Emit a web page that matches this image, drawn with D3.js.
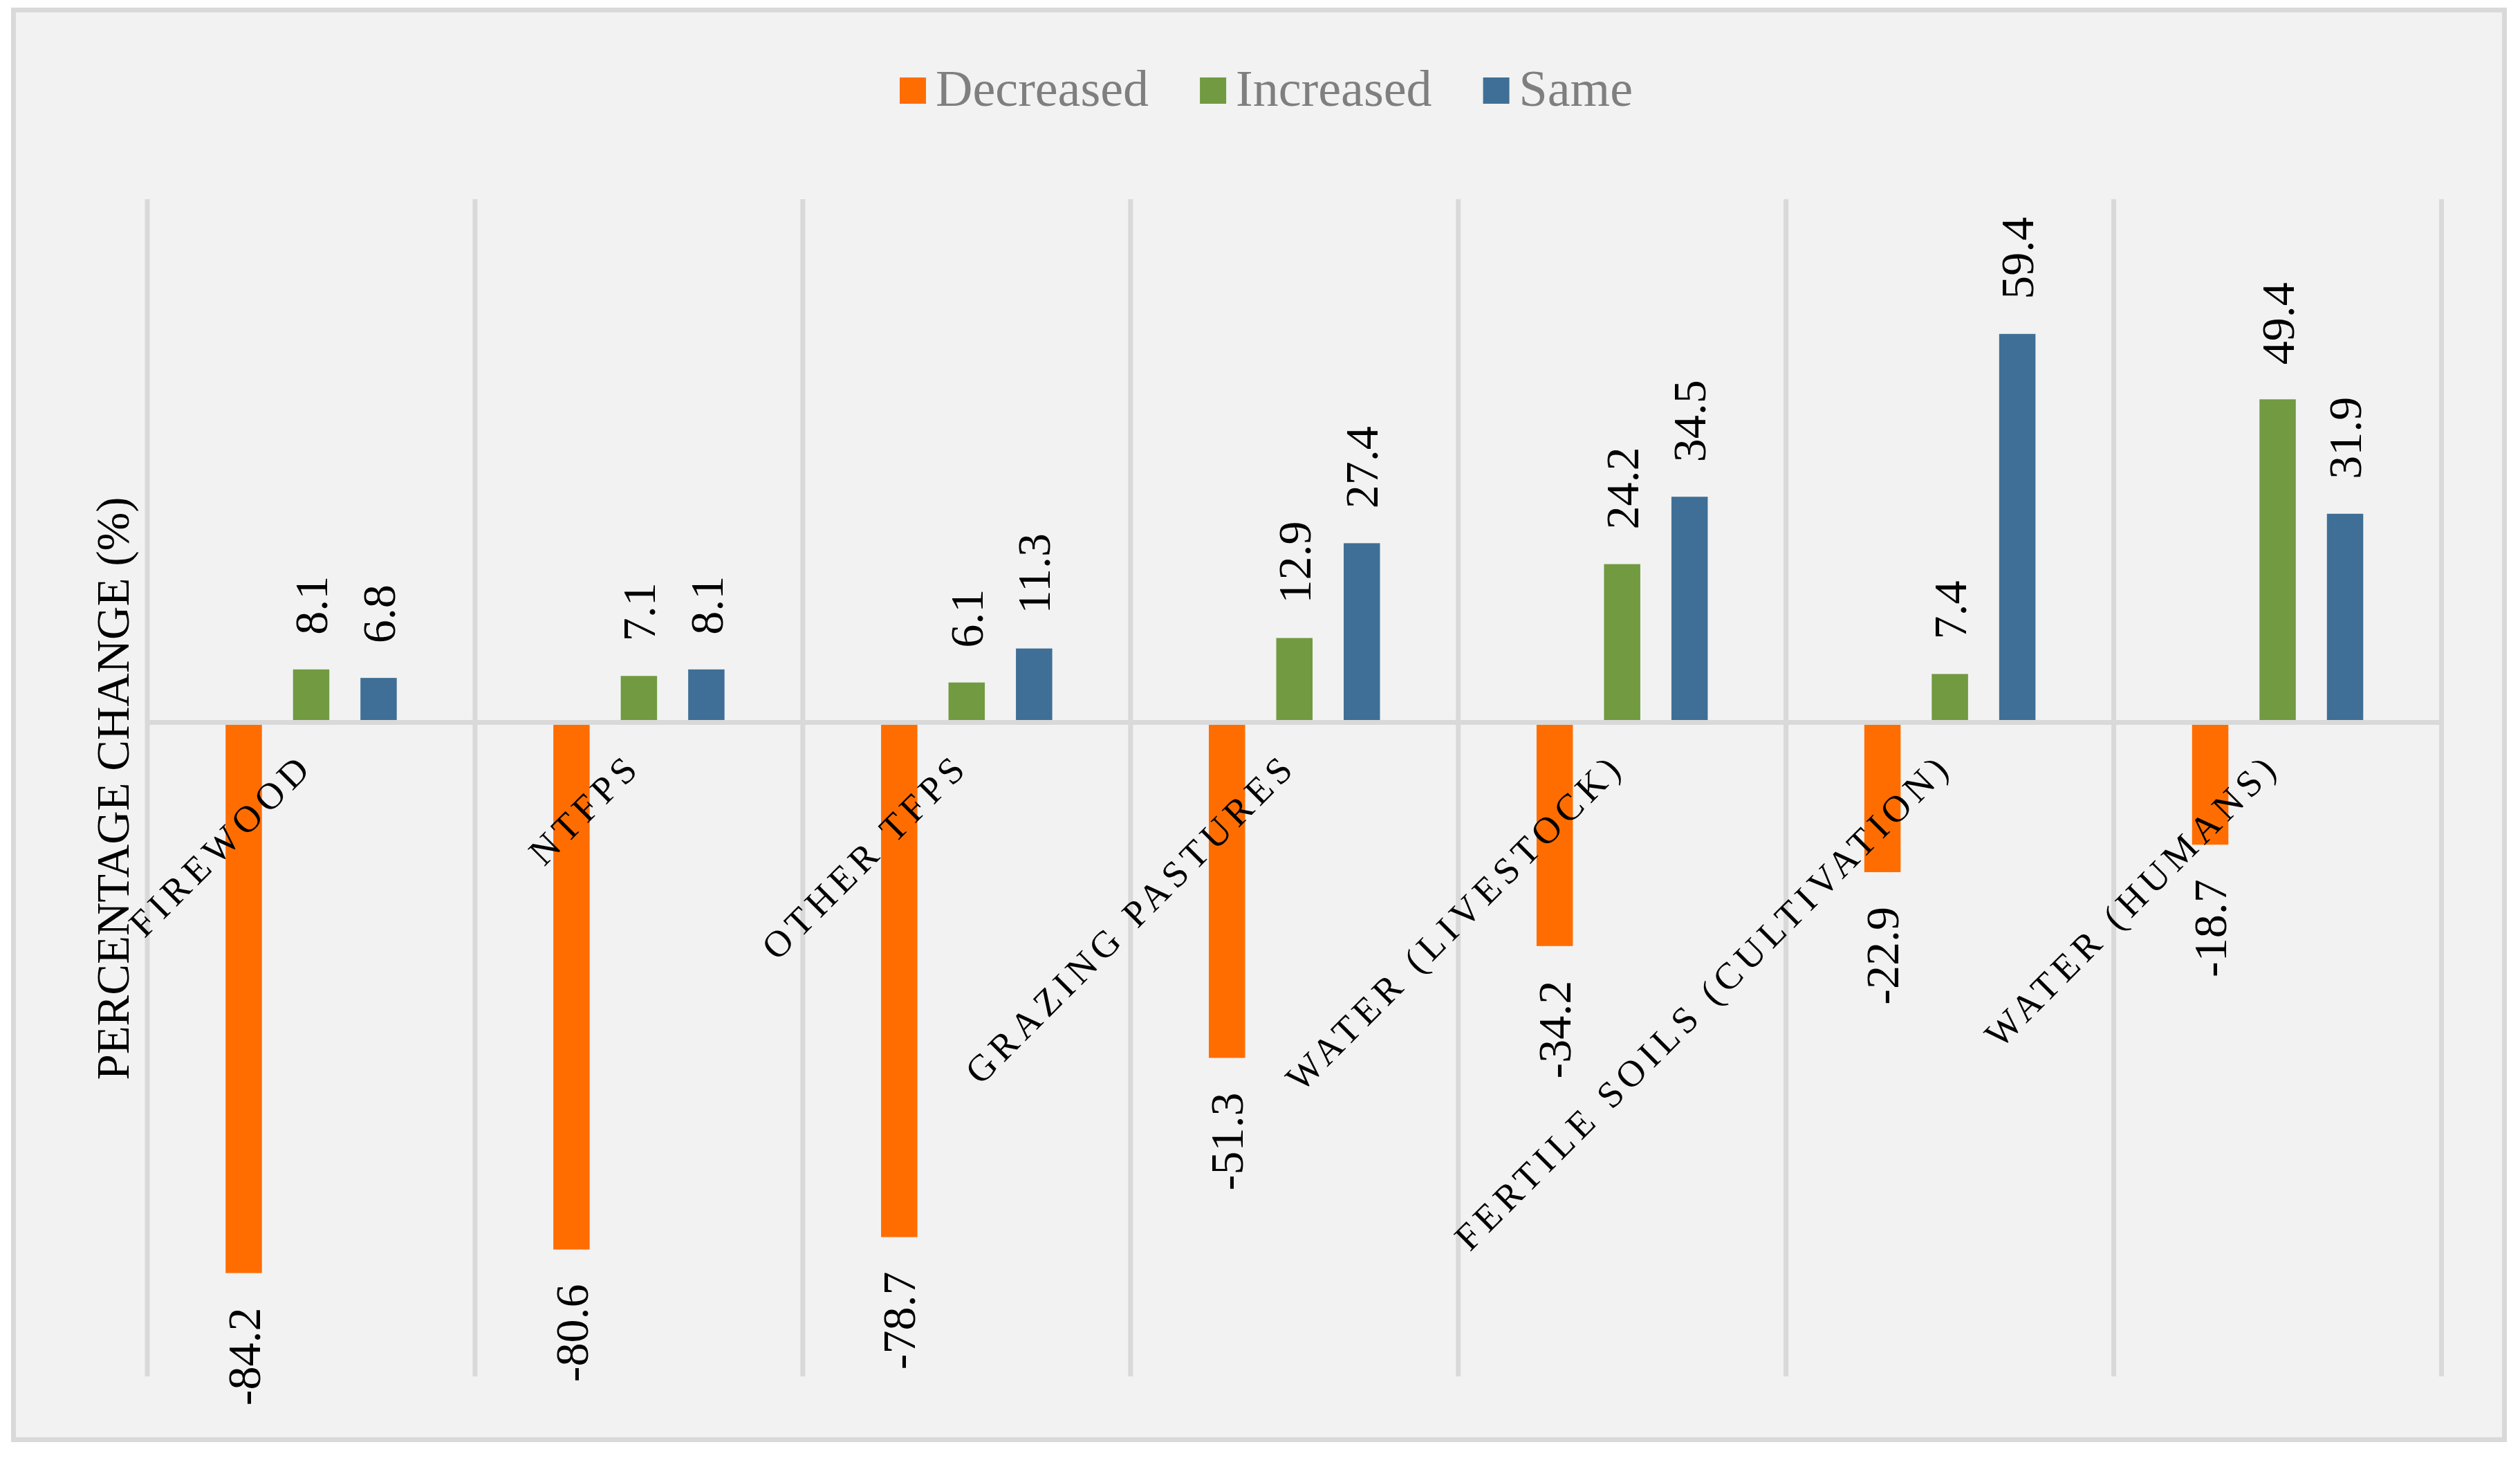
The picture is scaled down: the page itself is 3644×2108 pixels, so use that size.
<!DOCTYPE html>
<html>
<head>
<meta charset="utf-8">
<script src="https://cdn.jsdelivr.net/npm/d3@7"></script>
<style>
  body { margin: 0; background: #ffffff; }
</style>
</head>
<body>
<svg id="chart"></svg>
<script>
const categories = ["FIREWOOD", "NTFPS", "OTHER TFPS", "GRAZING PASTURES", "WATER (LIVESTOCK)", "FERTILE SOILS (CULTIVATION)", "WATER (HUMANS)"];
const seriesNames = ["Decreased", "Increased", "Same"];
const decreased = [-84.2, -80.6, -78.7, -51.3, -34.2, -22.9, -18.7];
const increased = [8.1, 7.1, 6.1, 12.9, 24.2, 7.4, 49.4];
const same = [6.8, 8.1, 11.3, 27.4, 34.5, 59.4, 31.9];
const yDomain = [-100, 80];

const colors = { Decreased: "#ff6d01", Increased: "#719a41", Same: "#3f6f96" };
const seriesValues = { Decreased: decreased, Increased: increased, Same: same };
const serif = "'Liberation Serif', 'Times New Roman', Times, serif";

const W = 3644, H = 2108;
const svg = d3.select("#chart").attr("width", W).attr("height", H);

// fond + cadre
svg.append("rect")
  .attr("x", 19.5).attr("y", 14.5)
  .attr("width", 3602).attr("height", 2067)
  .attr("fill", "#f2f2f2")
  .attr("stroke", "#d9d9d9")
  .attr("stroke-width", 7);

const plot = { left: 213, right: 3530.5, top: 288, bottom: 1990 };

const x = d3.scaleBand()
  .domain(categories)
  .range([plot.left, plot.right])
  .padding(0);

const xSub = d3.scaleBand()
  .domain(seriesNames)
  .range([0, x.bandwidth()])
  .paddingInner(0.4615)
  .paddingOuter(1.161);

const y = d3.scaleLinear()
  .domain(yDomain)
  .range([plot.bottom, plot.top]);

// lignes verticales entre les catégories
const bounds = categories.map(c => x(c)).concat([plot.right]);
svg.append("g")
  .selectAll("line")
  .data(bounds)
  .join("line")
  .attr("x1", d => d).attr("x2", d => d)
  .attr("y1", plot.top).attr("y2", plot.bottom)
  .attr("stroke", "#d9d9d9")
  .attr("stroke-width", 7);

// barres
const rows = [];
categories.forEach((c, i) => {
  seriesNames.forEach(s => {
    rows.push({ cat: c, series: s, value: seriesValues[s][i] });
  });
});

svg.append("g")
  .selectAll("rect")
  .data(rows)
  .join("rect")
  .attr("x", d => x(d.cat) + xSub(d.series))
  .attr("width", xSub.bandwidth())
  .attr("y", d => y(Math.max(0, d.value)))
  .attr("height", d => Math.abs(y(d.value) - y(0)))
  .attr("fill", d => colors[d.series]);

// ligne du zéro
svg.append("line")
  .attr("x1", plot.left).attr("x2", plot.right)
  .attr("y1", y(0)).attr("y2", y(0))
  .attr("stroke", "#d9d9d9")
  .attr("stroke-width", 7);

// étiquettes des valeurs
svg.append("g")
  .selectAll("text")
  .data(rows)
  .join("text")
  .attr("transform", d => {
    const cx = x(d.cat) + xSub(d.series) + xSub.bandwidth() / 2;
    const cy = d.value >= 0 ? y(d.value) - 50 : y(d.value) + 50;
    return `translate(${cx},${cy}) rotate(-90)`;
  })
  .attr("dy", "0.34em")
  .attr("text-anchor", d => d.value >= 0 ? "start" : "end")
  .attr("font-family", serif)
  .attr("font-size", 68)
  .attr("fill", "#000")
  .text(d => d.value.toFixed(1));

// étiquettes des catégories
const ls = 8;
svg.append("g")
  .selectAll("text")
  .data(categories)
  .join("text")
  .attr("transform", d => `translate(${x(d) + x.bandwidth() / 2},${y(0) + 72}) rotate(-45)`)
  .attr("x", ls)
  .attr("text-anchor", "end")
  .attr("font-family", serif)
  .attr("font-size", 54)
  .attr("letter-spacing", ls)
  .attr("fill", "#000")
  .text(d => d);

// titre de l'axe Y
svg.append("text")
  .attr("transform", `translate(186,1140) rotate(-90)`)
  .attr("text-anchor", "middle")
  .attr("font-family", serif)
  .attr("font-size", 67)
  .attr("fill", "#000")
  .text("PERCENTAGE CHANGE (%)");

// légende
const legend = svg.append("g");
let lx = 1301;
seriesNames.forEach(s => {
  legend.append("rect")
    .attr("x", lx).attr("y", 112)
    .attr("width", 38).attr("height", 38)
    .attr("fill", colors[s]);
  const t = legend.append("text")
    .attr("x", lx + 52).attr("y", 153)
    .attr("font-family", serif)
    .attr("font-size", 74)
    .attr("fill", "#7f7f7f")
    .text(s);
  lx += 52 + t.node().getComputedTextLength() + 74;
});
</script>
</body>
</html>
